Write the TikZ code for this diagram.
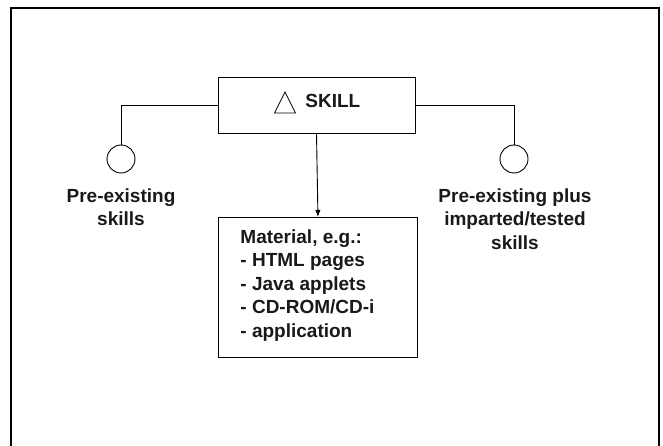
\documentclass[tikz,border=0pt]{standalone}
\usepackage{fontspec}
\setmainfont{Liberation Sans}
\usetikzlibrary{arrows.meta}
\begin{document}
\begin{tikzpicture}[x=1pt,y=-1pt,
  line width=0.9pt,
  frame/.style={line width=1.3pt},
  box/.style={draw,line width=0.9pt,inner sep=0pt},
  knob/.style={draw,circle,minimum size=28pt,inner sep=0pt,line width=0.9pt},
  txt/.style={font=\bfseries\fontsize{19}{23.5}\selectfont,inner sep=0pt,text=black!90},
  conn/.style={line width=0.9pt},
  arr/.style={line width=0.9pt,-{Latex[length=7pt,width=5.5pt]}}]
\useasboundingbox (0,0) rectangle (663,446);
% outer frame (open at the bottom)
\coordinate (fbl) at (11,446);
\coordinate (ftl) at (11,8);
\coordinate (ftr) at (659,8);
\coordinate (fbr) at (659,446);
\draw[frame] (fbl) -- (ftl) -- (ftr) -- (fbr);
% SKILL box
\node[box,minimum width=197pt,minimum height=56pt] (skill) at (316.5,105) {};
\node[txt,anchor=base west] (skilltxt) at (305,108) {SKILL};
\coordinate (t1) at (285,92);
\coordinate (t2) at (295.5,113);
\coordinate (t3) at (274.5,113);
\draw[line width=0.8pt] (t1) -- (t2) -- (t3) -- cycle;
% circles
\node[knob] (lc) at (121,159) {};
\node[knob] (rc) at (514,159) {};
\draw[conn] (skill.west) -| (lc.north);
\draw[conn] (skill.east) -| (rc.north);
% labels
\node[txt,align=center,anchor=north] (ll) at (121,188) {Pre-existing\\skills};
\node[txt,align=center,anchor=north] (rl) at (515,188) {Pre-existing plus\\imparted/tested\\skills};
% material box
\node[box,minimum width=199pt,minimum height=140pt,anchor=north west] (mat) at (218,217) {};
\node[txt,align=left,anchor=north west] (mattxt) at (240,229) {Material, e.g.:\\- HTML pages\\- Java applets\\- CD-ROM/CD-i\\- application};
\draw[arr] (skill.south) -- (mat.north);
\end{tikzpicture}
\end{document}
